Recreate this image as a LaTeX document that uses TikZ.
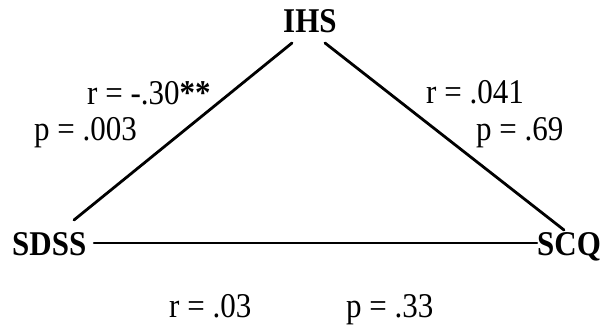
\documentclass[tikz,border=0pt]{standalone}
\usepackage{fontspec}
\setmainfont{Liberation Serif}
\newcommand{\vstretch}[1]{\scalebox{1}[1.12]{#1}}
\begin{document}
\begin{tikzpicture}[x=1pt,y=-1pt,
  lbl/.style={anchor=base west,inner sep=0pt,font=\fontsize{31}{36}\selectfont},
  var/.style={anchor=base west,inner sep=0pt,font=\fontsize{31}{36}\selectfont\bfseries},
  edge/.style={line width=2.8pt,line cap=round}]
\useasboundingbox (0,0) rectangle (601,336);
\node[var] (ihs) at (283,33) {\vstretch{IHS}};
\node[var] (sdss) at (12,255) {\vstretch{SDSS}};
\node[var] (scq) at (537,255) {\vstretch{SCQ}};
\node[lbl] (r1) at (87,105) {\vstretch{r = -.30\textbf{**}}};
\node[lbl] (p1) at (34,141) {\vstretch{p = .003}};
\node[lbl] (r2) at (426,104) {\vstretch{r = .041}};
\node[lbl] (p2) at (476,141) {\vstretch{p = .69}};
\node[lbl] (r3) at (169,317) {\vstretch{r = .03}};
\node[lbl] (p3) at (346,317) {\vstretch{p = .33}};
\coordinate (ihsL) at (292,43);
\coordinate (ihsR) at (325,43);
\coordinate (sdssT) at (74,220);
\coordinate (sdssR) at (94,243);
\coordinate (scqT) at (564,230);
\coordinate (scqL) at (537,243);
\draw[edge] (sdssT) -- (ihsL);
\draw[edge] (ihsR) -- (scqT);
\draw[edge,line width=2.4pt] (sdssR) -- (scqL);
\end{tikzpicture}
\end{document}
